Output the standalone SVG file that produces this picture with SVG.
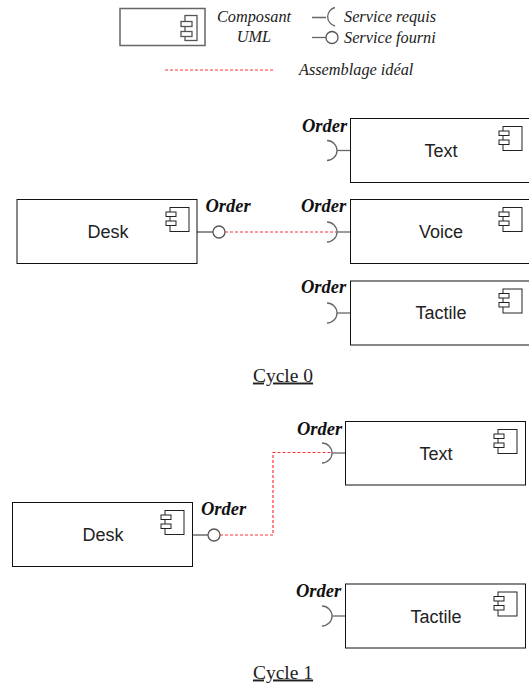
<svg xmlns="http://www.w3.org/2000/svg" width="529" height="684" viewBox="0 0 529 684">
<style>
.b{fill:#fff;stroke:#111;stroke-width:1}
.i{fill:#fff;stroke:#222;stroke-width:1}
.g{fill:#fff;stroke:#555;stroke-width:1.300}
.pc{fill:#fff;stroke:#555;stroke-width:1.300}
.w{fill:none;stroke:#666;stroke-width:1.300}
.s{fill:none;stroke:#222;stroke-width:1}
.d{fill:none;stroke:#f33;stroke-width:1.200;stroke-dasharray:3 2}
text{font-family:"Liberation Serif",serif;fill:#111}
.n{font-family:"Liberation Sans",sans-serif;font-size:18px;text-anchor:middle;fill:#222}
.o{font-size:18.500px;font-weight:bold;font-style:italic;text-anchor:middle}
.l{font-size:16.300px;font-style:italic;fill:#222}
.c{font-size:19.500px;text-anchor:middle;text-decoration:underline;fill:#222}
</style>
<defs>
<g id="ic"><rect class="i" x="-19" y="0" width="19" height="24"/><rect class="i" x="-23" y="4.500" width="10" height="4.500"/><rect class="i" x="-23" y="13.500" width="10" height="4.500"/></g>
<g id="icg"><rect class="g" x="-12" y="0" width="12" height="25"/><rect class="g" x="-16" y="6" width="11" height="5"/><rect class="g" x="-16" y="16" width="11" height="5"/></g>
<g id="req"><path class="w" d="M0 0H-13"/><path class="w" d="M-23-10A10 10 0 0 1-23 10"/></g>
<g id="pro"><path class="s" d="M0 0H16"/><circle class="pc" cx="22" cy="0" r="6"/></g>
</defs>
<g id="legend">
<rect x="120" y="8.500" width="85" height="37" fill="#fff" stroke="#666" stroke-width="1.500"/>
<use href="#icg" x="197" y="15.500"/>
<text class="l" x="254" y="22" text-anchor="middle">Composant</text>
<text class="l" x="254" y="42" text-anchor="middle">UML</text>
<path class="w" d="M312 17.500H326M335 7.500A9.500 9.500 0 0 0 335 26"/>
<path class="w" d="M312 37.500H326"/><circle class="pc" cx="332" cy="37.500" r="6"/>
<text class="l" x="344" y="21.500">Service requis</text>
<text class="l" x="344" y="42.500">Service fourni</text>
<path class="d" d="M165 70H274"/>
<text class="l" x="299" y="75">Assemblage idéal</text>
</g>
<g id="connectors">
<path class="d" d="M225 232H336"/>
<path class="d" d="M220 535H273V452.500H332"/>
</g>
<g id="c0-text"><rect class="b" x="350.500" y="118.500" width="180" height="64"/><use href="#ic" x="522" y="126.500"/><text class="n" x="441" y="157">Text</text><use href="#req" x="350" y="150.500"/><text class="o" x="324.500" y="132">Order</text></g>
<g id="c0-voice"><rect class="b" x="350.500" y="199.500" width="180" height="64"/><use href="#ic" x="522" y="207.500"/><text class="n" x="441" y="238">Voice</text><use href="#req" x="350" y="232"/><text class="o" x="323.500" y="212">Order</text></g>
<g id="c0-tactile"><rect class="b" x="350.500" y="281" width="180" height="64"/><use href="#ic" x="522" y="289"/><text class="n" x="441" y="319">Tactile</text><use href="#req" x="350" y="313"/><text class="o" x="323.500" y="293">Order</text></g>
<g id="c0-desk"><rect class="b" x="17" y="199.500" width="180" height="64"/><use href="#ic" x="189" y="207.500"/><text class="n" x="108" y="238">Desk</text><use href="#pro" x="197" y="232"/><text class="o" x="228" y="212">Order</text></g>
<text class="c" x="283" y="381.500">Cycle 0</text>
<g id="c1-text"><rect class="b" x="345.500" y="421.500" width="180" height="63.500"/><use href="#ic" x="517" y="429.500"/><text class="n" x="436" y="460">Text</text><use href="#req" x="345" y="453"/><text class="o" x="319.500" y="435">Order</text></g>
<g id="c1-tactile"><rect class="b" x="345.500" y="584" width="180" height="64"/><use href="#ic" x="517" y="592"/><text class="n" x="436" y="623">Tactile</text><use href="#req" x="345" y="616"/><text class="o" x="318.500" y="597">Order</text></g>
<g id="c1-desk"><rect class="b" x="12.500" y="502.500" width="180" height="64"/><use href="#ic" x="184" y="510.500"/><text class="n" x="103" y="541">Desk</text><use href="#pro" x="192" y="535"/><text class="o" x="223.500" y="515">Order</text></g>
<text class="c" x="283" y="678.500">Cycle 1</text>
</svg>
